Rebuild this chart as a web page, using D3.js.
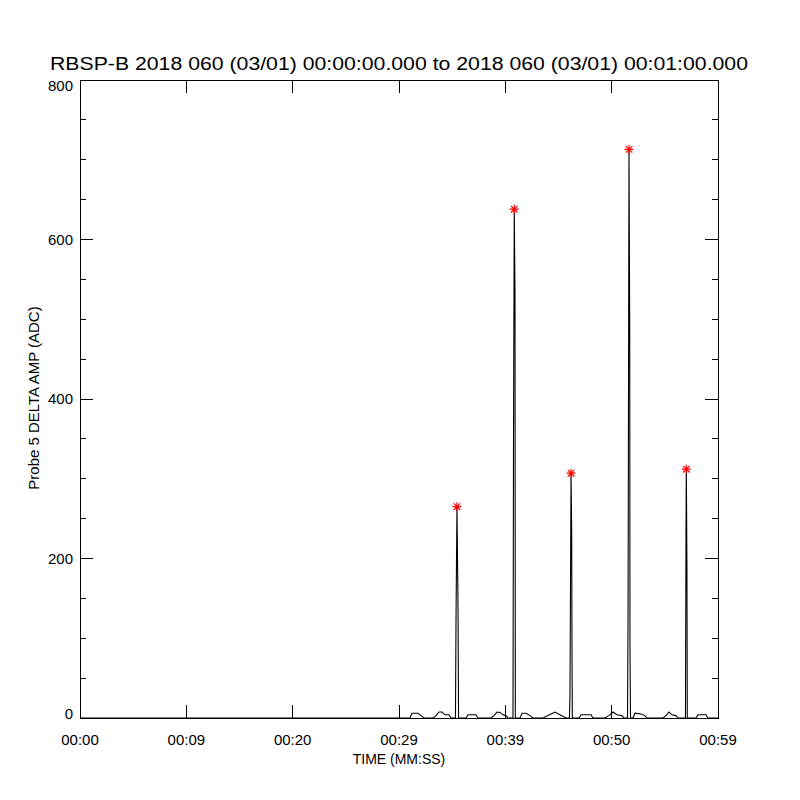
<!DOCTYPE html>
<html>
<head>
<meta charset="utf-8">
<script src="https://cdn.jsdelivr.net/npm/d3@7/dist/d3.min.js"></script>
<style>
  html, body { margin: 0; padding: 0; background: #fff; }
  text { font-family: "Liberation Sans", Arial, sans-serif; fill: #000; }
</style>
</head>
<body>
<svg id="chart" width="800" height="800"></svg>
<script>
// ---- data ----
const titleText = "RBSP-B 2018 060 (03/01) 00:00:00.000 to 2018 060 (03/01) 00:01:00.000";
const xTitle = "TIME (MM:SS)";
const yTitle = "Probe 5 DELTA AMP (ADC)";
const xTickValues = [0, 10, 20, 30, 40, 50, 60];
const xTickLabels = ["00:00", "00:09", "00:20", "00:29", "00:39", "00:50", "00:59"];
const yTickValues = [0, 200, 400, 600, 800];
const yTickLabels = ["0", "200", "400", "600", "800"];

// time (s) and amplitude (ADC) of the trace
const times = [0, 31.03, 31.22, 31.79, 32.07, 32.35, 33.20, 33.48, 33.76, 34.04, 34.33, 34.70, 34.89,
  35.31, 35.36, 35.45, 35.55, 35.60,
  36.30, 36.49, 37.24, 37.43, 38.65, 38.93, 39.22, 39.50, 39.78, 40.06, 40.25,
  40.72, 40.77, 40.84, 40.91, 40.94,
  41.38, 41.57, 41.94, 42.32, 42.60, 43.54, 44.01, 44.67, 45.14, 45.71,
  46.03, 46.08, 46.18, 46.24, 46.27, 46.30,
  46.93, 47.12, 48.06, 48.24, 49.37, 49.75, 50.13, 50.50, 50.97, 51.16,
  51.49, 51.54, 51.63, 51.70, 51.72, 51.77,
  52.01, 52.19, 52.76, 53.13, 53.32, 54.83, 55.11, 55.39, 55.67, 56.05, 56.24,
  56.94, 56.99, 57.02, 57.08, 57.11,
  57.93, 58.12, 58.87, 59.06, 60];
const amps = [0, 0, 6, 6, 3, 0, 0, 3, 7.5, 7.5, 4, 4, 0,
  0, 119, 265, 140, 0,
  0, 4, 4, 0, 0, 3, 7.5, 7, 4, 3, 0,
  0, 355, 638, 530, 0,
  0, 6, 6, 3, 0, 0, 3, 7.5, 4, 0,
  0, 29, 307, 234, 81, 0,
  0, 4, 4, 0, 0, 3, 7.5, 4, 3, 0,
  0, 119, 713, 476, 94, 0,
  0, 6, 5, 3, 0, 0, 3, 7.5, 4, 3, 0,
  0, 231, 312, 188, 0,
  0, 4, 4, 0, 0];

// peak markers
const peakTimes = [35.45, 40.84, 46.18, 51.63, 57.02];
const peakAmps = [265, 638, 307, 713, 312];

// ---- layout ----
const svg = d3.select("#chart");
const L = 80, R = 718, T = 80, B = 718;
const x = d3.scaleLinear().domain([0, 60]).range([L, R]);
const y = d3.scaleLinear().domain([0, 800]).range([B, T]);
const majorLen = 13, minorLen = 6;

const g = svg.append("g");

// frame
g.append("rect").attr("x", L).attr("y", T).attr("width", R - L).attr("height", B - T)
  .attr("fill", "none").attr("stroke", "#000").attr("stroke-width", 1)
  .attr("shape-rendering", "crispEdges");

const yMinor = d3.range(0, 801, 50).filter(v => v % 200 !== 0);

const ax = g.append("g").attr("stroke", "#000").attr("stroke-width", 1).attr("shape-rendering", "crispEdges");
xTickValues.forEach(v => {
  ax.append("line").attr("x1", x(v)).attr("x2", x(v)).attr("y1", B).attr("y2", B - majorLen);
  ax.append("line").attr("x1", x(v)).attr("x2", x(v)).attr("y1", T).attr("y2", T + majorLen);
});
yTickValues.forEach(v => {
  ax.append("line").attr("x1", L).attr("x2", L + majorLen).attr("y1", y(v)).attr("y2", y(v));
  ax.append("line").attr("x1", R).attr("x2", R - majorLen).attr("y1", y(v)).attr("y2", y(v));
});
yMinor.forEach(v => {
  ax.append("line").attr("x1", L).attr("x2", L + minorLen).attr("y1", y(v)).attr("y2", y(v));
  ax.append("line").attr("x1", R).attr("x2", R - minorLen).attr("y1", y(v)).attr("y2", y(v));
});

// tick labels
xTickValues.forEach((v, i) => {
  g.append("text").attr("x", x(v)).attr("y", 745).attr("text-anchor", "middle")
    .attr("font-size", 15).text(xTickLabels[i]);
});
yTickValues.forEach((v, i) => {
  const cy = Math.min(Math.max(y(v), T + 6), B - 4);
  g.append("text").attr("x", 73).attr("y", cy).attr("dy", "0.35em").attr("text-anchor", "end")
    .attr("font-size", 15).text(yTickLabels[i]);
});

// titles
g.append("text").attr("x", 399).attr("y", 70).attr("text-anchor", "middle")
  .attr("font-size", 18).attr("textLength", 698).attr("lengthAdjust", "spacingAndGlyphs")
  .text(titleText);
g.append("text").attr("x", 399).attr("y", 764).attr("text-anchor", "middle")
  .attr("font-size", 14).text(xTitle);
g.append("text").attr("transform", "translate(39,398) rotate(-90)").attr("text-anchor", "middle")
  .attr("font-size", 15).text(yTitle);

// trace
const pts = times.map((t, i) => [t, amps[i]]);
const line = d3.line().x(d => x(d[0])).y(d => y(d[1]));
g.append("path").datum(pts).attr("d", line).attr("fill", "none")
  .attr("stroke", "#000").attr("stroke-width", 1.1);

// peak asterisks
const r = 4.5, rd = 3.3;
const star = `M${-r},0L${r},0M0,${-r}L0,${r}M${-rd},${-rd}L${rd},${rd}M${-rd},${rd}L${rd},${-rd}`;
peakTimes.forEach((t, i) => {
  g.append("path").attr("d", star)
    .attr("transform", `translate(${x(t)},${y(peakAmps[i])})`)
    .attr("stroke", "#ff0000").attr("stroke-width", 1.2).attr("fill", "none");
});
</script>
</body>
</html>
